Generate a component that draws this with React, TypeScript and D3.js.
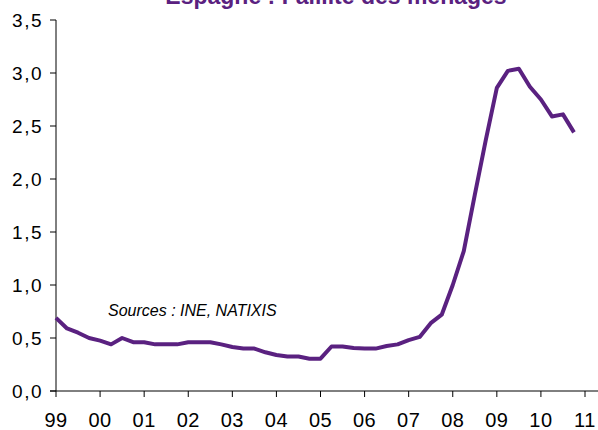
import React from "react";
import * as d3 from "d3";

// quarterly, 1999Q1 .. 2010Q4
const values = [
  0.69, 0.59, 0.55, 0.5,
  0.475, 0.44, 0.5, 0.46,
  0.46, 0.44, 0.44, 0.44,
  0.46, 0.46, 0.46, 0.44,
  0.415, 0.4, 0.4, 0.365,
  0.34, 0.325, 0.325, 0.305,
  0.305, 0.42, 0.42, 0.405,
  0.4, 0.4, 0.425, 0.44,
  0.48, 0.51, 0.64, 0.72,
  1.0, 1.32, 1.85, 2.37,
  2.86, 3.02, 3.04, 2.87,
  2.75, 2.59, 2.61, 2.44,
];
const yearLabels = ["99", "00", "01", "02", "03", "04", "05", "06", "07", "08", "09", "10", "11"];
const yTicks = [0, 0.5, 1, 1.5, 2, 2.5, 3, 3.5];
const title = "Espagne : Faillite des ménages";
const source = "Sources : INE, NATIXIS";

const W = 598;
const H = 430;
const purple = "#5a2180";

export default function App() {
  const x = d3.scaleLinear().domain([0, 48]).range([56, 585]);
  const y = d3.scaleLinear().domain([0, 3.5]).range([391, 20]);
  const fmt = (v: number) => v.toFixed(1).replace(".", ",");

  const line = d3
    .line<number>()
    .x((d, i) => x(i))
    .y((d) => y(d));

  return (
    <svg
      width={W}
      height={H}
      style={{ position: "absolute", left: 0, top: 0, background: "#fff" }}
      fontFamily="Arial, 'Liberation Sans', sans-serif"
    >
      {/* title is cropped at the top edge, as in the original */}
      <text x={336} y={4} textAnchor="middle" fontSize={23} fontWeight="bold" fill={purple}>
        {title}
      </text>

      {/* y axis */}
      <line x1={56} x2={56} y1={y(3.5)} y2={y(0)} stroke="#000" strokeWidth={1} />
      {yTicks.map((t) => (
        <g key={t}>
          <line x1={50} x2={56} y1={y(t)} y2={y(t)} stroke="#000" />
          <text x={43} y={y(t) + 7} textAnchor="end" fontSize={19} letterSpacing={1.5} fill="#000">
            {fmt(t)}
          </text>
        </g>
      ))}

      {/* x axis */}
      <line x1={50} x2={598} y1={y(0)} y2={y(0)} stroke="#000" strokeWidth={1} />
      {yearLabels.map((lab, i) => (
        <g key={lab}>
          <line x1={x(i * 4)} x2={x(i * 4)} y1={y(0)} y2={y(0) + 6} stroke="#000" />
          <text x={x(i * 4)} y={427} textAnchor="middle" fontSize={20} letterSpacing={0.5} fill="#000">
            {lab}
          </text>
        </g>
      ))}

      <text x={108} y={316} fontSize={16} fontStyle="italic" fill="#000">
        {source}
      </text>

      <path d={line(values) || ""} fill="none" stroke={purple} strokeWidth={4} strokeLinejoin="round" />
    </svg>
  );
}
